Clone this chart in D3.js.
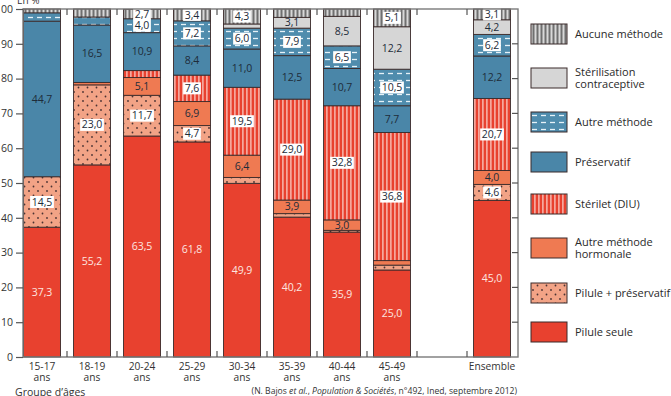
<!DOCTYPE html>
<html>
<head>
<meta charset="utf-8">
<script src="https://cdn.jsdelivr.net/npm/d3@7"></script>
<style>
  body { margin: 0; background: #fff; }
  svg { display: block; font-family: "Open Sans", sans-serif; }
</style>
</head>
<body>
<svg id="chart" width="671" height="396"></svg>
<script>
// age groups (the empty slot before "Ensemble" is a gap)
var groups = ["15-17", "18-19", "20-24", "25-29", "30-34", "35-39", "40-44", "45-49", "Ensemble"];
var slots = ["15-17", "18-19", "20-24", "25-29", "30-34", "35-39", "40-44", "45-49", "gap", "Ensemble"];

// shares in %, bottom to top of each bar
var piluleSeule   = [37.3, 55.2, 63.5, 61.8, 49.9, 40.2, 35.9, 25.0, 45.0];
var pilulePreserv = [14.5, 23.0, 11.7, 4.7, 1.7, 1.0, 0.5, 1.4, 4.6];
var autreHormon   = [0.0, 0.7, 5.1, 6.9, 6.4, 3.9, 3.0, 1.3, 4.0];
var sterilet      = [0.0, 0.0, 2.0, 7.6, 19.5, 29.0, 32.8, 36.8, 20.7];
var preservatif   = [44.7, 16.5, 10.9, 8.4, 11.0, 12.5, 10.7, 7.7, 12.2];
var autreMethode  = [2.4, 2.3, 4.0, 7.2, 6.0, 7.9, 6.5, 10.5, 6.2];
var sterilisation = [0.0, 0.0, 0.0, 0.0, 1.2, 3.1, 8.5, 12.2, 4.2];
var aucune        = [1.1, 2.3, 2.7, 3.4, 4.3, 2.4, 2.1, 5.1, 3.1];

var keys = ["pilule", "pilulePres", "hormon", "diu", "preserv", "autre", "steril", "aucune"];
var legendLabels = {
  aucune: ["Aucune méthode"],
  steril: ["Stérilisation", "contraceptive"],
  autre: ["Autre méthode"],
  preserv: ["Préservatif"],
  diu: ["Stérilet (DIU)"],
  hormon: ["Autre méthode", "hormonale"],
  pilulePres: ["Pilule + préservatif"],
  pilule: ["Pilule seule"]
};
var yTicks = [0, 10, 20, 30, 40, 50, 60, 70, 80, 90, 100];

var table = groups.map(function(g, i) {
  return {
    group: g, pilule: piluleSeule[i], pilulePres: pilulePreserv[i], hormon: autreHormon[i],
    diu: sterilet[i], preserv: preservatif[i], autre: autreMethode[i],
    steril: sterilisation[i], aucune: aucune[i]
  };
});

var svg = d3.select("#chart");
var plotLeft = 23, plotRight = 518, plotTop = 9, plotBottom = 357;

var x = d3.scaleBand().domain(slots).range([17, 517]).paddingInner(0.26).paddingOuter(0.13);
var y = d3.scaleLinear().domain([0, 100]).range([plotBottom, plotTop]);

// patterns
var defs = svg.append("defs");
var p = defs.append("pattern").attr("id", "p-diu").attr("patternUnits", "userSpaceOnUse")
  .attr("width", 4).attr("height", 4);
p.append("rect").attr("width", 4).attr("height", 4).attr("fill", "#e8412f");
p.append("rect").attr("x", 2.3).attr("width", 1.2).attr("height", 4).attr("fill", "#fbd3cc");

p = defs.append("pattern").attr("id", "p-aucune").attr("patternUnits", "userSpaceOnUse")
  .attr("width", 4).attr("height", 4);
p.append("rect").attr("width", 4).attr("height", 4).attr("fill", "#d8d8d8");
p.append("rect").attr("x", 0.5).attr("width", 2).attr("height", 4).attr("fill", "#6f6f6f");

p = defs.append("pattern").attr("id", "p-autre").attr("patternUnits", "userSpaceOnUse")
  .attr("width", 9).attr("height", 7);
p.append("rect").attr("width", 9).attr("height", 7).attr("fill", "#4f8cad");
p.append("line").attr("x1", 1).attr("x2", 6).attr("y1", 3.5).attr("y2", 3.5)
  .attr("stroke", "#e6f2f8").attr("stroke-width", 1.3);

p = defs.append("pattern").attr("id", "p-pres").attr("patternUnits", "userSpaceOnUse")
  .attr("width", 9).attr("height", 9);
p.append("rect").attr("width", 9).attr("height", 9).attr("fill", "#f2a386");
p.append("circle").attr("cx", 2).attr("cy", 2).attr("r", 0.9).attr("fill", "#4a3232");
p.append("circle").attr("cx", 6.5).attr("cy", 6.5).attr("r", 0.9).attr("fill", "#4a3232");

var fills = {
  pilule: "#e8412f", pilulePres: "url(#p-pres)", hormon: "#ef7a52", diu: "url(#p-diu)",
  preserv: "#4a86a8", autre: "url(#p-autre)", steril: "#d6d6d6", aucune: "url(#p-aucune)"
};
var boxed = { pilulePres: true, diu: true, autre: true, aucune: true };

var fmt = function(v) { return d3.format(".1f")(v).replace(".", ","); };

var stacked = d3.stack().keys(keys)(table);

// bars
var layers = svg.append("g").selectAll("g").data(stacked).enter().append("g");
layers.selectAll("rect")
  .data(function(d) { return d.map(function(s) { return { key: d.key, s: s }; }); })
  .enter().append("rect")
  .filter(function(d) { return d.s[1] - d.s[0] > 0; })
  .attr("x", function(d) { return x(d.s.data.group); })
  .attr("width", x.bandwidth())
  .attr("y", function(d) { return y(d.s[1]); })
  .attr("height", function(d) { return y(d.s[0]) - y(d.s[1]); })
  .attr("fill", function(d) { return fills[d.key]; })
  .attr("stroke", "#3b2b2b")
  .attr("stroke-width", 0.9);

// value labels (small shares are left unlabelled)
var labels = svg.append("g");
stacked.forEach(function(layer) {
  layer.forEach(function(s) {
    var v = s[1] - s[0];
    if (v < 2.6) return;
    var cx = x(s.data.group) + x.bandwidth() / 2;
    var cy = y((s[0] + s[1]) / 2);
    var g = labels.append("g");
    var t = g.append("text")
      .attr("x", cx).attr("y", cy + 3.6)
      .attr("text-anchor", "middle")
      .attr("font-size", 10.5)
      .attr("fill", layer.key == "pilule" ? "#fde6e0" : "#1e2c3a")
      .text(fmt(v));
    if (boxed[layer.key]) {
      var bb = t.node().getBBox();
      g.insert("rect", "text")
        .attr("x", bb.x - 1.5).attr("y", cy - 6)
        .attr("width", bb.width + 3).attr("height", 12)
        .attr("fill", "#fff");
    }
  });
});

// frame
var frame = svg.append("g").attr("stroke", "#7a7a7a").attr("stroke-width", 1.4).attr("fill", "none");
frame.append("rect").attr("x", plotLeft).attr("y", plotTop)
  .attr("width", plotRight - plotLeft).attr("height", plotBottom - plotTop);

// left axis ticks and labels, right inner ticks
svg.append("g")
  .attr("transform", "translate(" + plotLeft + ",0)")
  .call(d3.axisLeft(y).tickValues(yTicks).tickSize(7).tickPadding(3))
  .call(function(g) {
    g.select(".domain").remove();
    g.selectAll("line").attr("stroke", "#555").attr("stroke-width", 1.2);
    g.selectAll("text").attr("font-size", 10.5).attr("fill", "#333").attr("font-family", "Open Sans");
  });
svg.append("g").selectAll("line").data(yTicks.slice(1, -1)).enter().append("line")
  .attr("x1", plotRight - 6).attr("x2", plotRight)
  .attr("y1", function(d) { return y(d); }).attr("y2", function(d) { return y(d); })
  .attr("stroke", "#555").attr("stroke-width", 1.2);

// category boundary ticks, top and bottom
var bounds = slots.slice(1).map(function(s) { return x(s) - x.step() * x.paddingInner() / 2; });
var bt = svg.append("g").attr("stroke", "#555").attr("stroke-width", 1.2);
bounds.forEach(function(b) {
  bt.append("line").attr("x1", b).attr("x2", b).attr("y1", plotBottom).attr("y2", plotBottom - 6);
  bt.append("line").attr("x1", b).attr("x2", b).attr("y1", plotTop).attr("y2", plotTop + 6);
});

// x labels, two lines each
groups.forEach(function(g) {
  var cx = x(g) + x.bandwidth() / 2;
  svg.append("text").attr("x", cx).attr("y", 370).attr("text-anchor", "middle")
    .attr("font-size", 10.2).attr("fill", "#333").text(g);
  if (g != "Ensemble") {
    svg.append("text").attr("x", cx).attr("y", 381).attr("text-anchor", "middle")
      .attr("font-size", 10.2).attr("fill", "#333").text("ans");
  }
});

svg.append("text").attr("x", 15).attr("y", 395.5).attr("font-size", 10.5).attr("fill", "#333")
  .text("Groupe d’âges");
svg.append("text").attr("x", 17).attr("y", 4).attr("font-size", 10).attr("fill", "#333").text("En %");

var src = svg.append("text").attr("x", 517).attr("y", 394).attr("text-anchor", "end")
  .attr("font-size", 8.6).attr("fill", "#333");
src.append("tspan").text("(N. Bajos ");
src.append("tspan").attr("font-style", "italic").text("et al.");
src.append("tspan").text(", ");
src.append("tspan").attr("font-style", "italic").text("Population & Sociétés");
src.append("tspan").text(", n°492, Ined, septembre 2012)");

// legend
var legendY = { aucune: 34, steril: 78, autre: 122, preserv: 162, diu: 204, hormon: 248, pilulePres: 293, pilule: 332 };
var leg = svg.append("g");
keys.slice().reverse().forEach(function(k) {
  var cy = legendY[k];
  leg.append("rect").attr("x", 531).attr("y", cy - 10).attr("width", 36).attr("height", 20)
    .attr("fill", fills[k]).attr("stroke", "#3b2b2b").attr("stroke-width", 1);
  var lines = legendLabels[k];
  lines.forEach(function(l, i) {
    leg.append("text").attr("x", 575)
      .attr("y", cy + 4 + (i - (lines.length - 1) / 2) * 12.5)
      .attr("font-size", 11).attr("fill", "#2a2a2a").text(l);
  });
});
</script>
</body>
</html>
